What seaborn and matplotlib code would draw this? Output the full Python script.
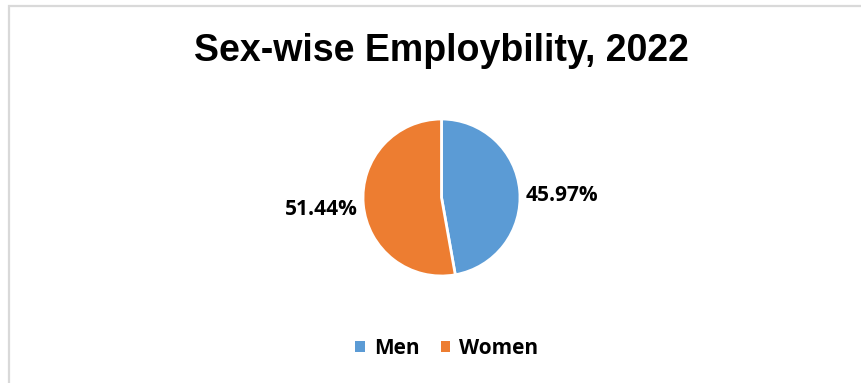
import matplotlib
matplotlib.use("Agg")
import matplotlib.pyplot as plt
from matplotlib.patches import Rectangle
import seaborn as sns

# Share of employability by sex, 2022 (percent)
categories = ["Men", "Women"]
values = [45.97, 51.44]
colors = ["#5B9BD5", "#ED7D31"]
title = "Sex-wise Employbility, 2022"

sns.set_theme(style="white")
plt.rcParams["font.family"] = ["Open Sans", "DejaVu Sans"]
plt.rcParams["text.color"] = "black"

W, H, DPI = 861, 383, 100
fig = plt.figure(figsize=(W / DPI, H / DPI), dpi=DPI)
fig.patch.set_facecolor("white")

# Light grey chart frame (only top and left edges fall inside the image)
fig.patches.append(Rectangle((8.5 / W, -0.1), 1.2, 1.1 - 6.5 / H,
                             transform=fig.transFigure, fill=False,
                             edgecolor="#d9d9d9", linewidth=1.6, zorder=0))

# Pie axes: centre at (441.5, 197.5) px, radius 78.5 px
cx, cy, r = 441.5, H - 197.5, 78.5
half = 100
ax = fig.add_axes([(cx - half) / W, (cy - half) / H, 2 * half / W, 2 * half / H])
span = half / r

wedges, texts = ax.pie(
    values,
    colors=colors,
    startangle=90,
    counterclock=False,
    labels=[f"{v:.2f}%" for v in values],
    labeldistance=1.07,
    wedgeprops=dict(edgecolor="white", linewidth=2),
    textprops=dict(fontsize=15, fontweight="bold", color="black"),
)
# nudge the outside-end labels slightly below their wedge mid-line
for t in texts:
    x, y = t.get_position()
    t.set_position((x, y - 5 / r))
ax.set_xlim(-span, span)
ax.set_ylim(-span, span)
ax.set_aspect("equal")
ax.axis("off")

fig.text(cx / W, 1 - 51 / H, title, ha="center", va="center", color="black",
         fontsize=27, fontweight="bold", family=["Liberation Sans", "DejaVu Sans"])

leg = fig.legend(wedges, categories, loc="center",
                 bbox_to_anchor=(447 / W, 1 - 348.5 / H), ncol=2, frameon=False,
                 prop=dict(size=15, weight="bold"),
                 handlelength=0.45, handleheight=0.45, handletextpad=0.45,
                 columnspacing=1.0)
for h in leg.legend_handles:
    h.set_edgecolor("none")

fig.savefig("out.png", dpi=DPI, facecolor="white")
